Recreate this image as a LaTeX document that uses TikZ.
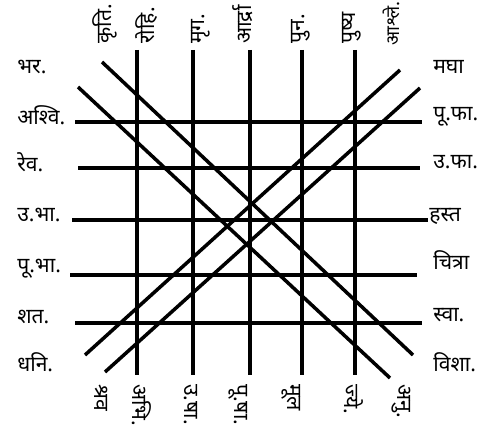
\documentclass[tikz,border=0pt]{standalone}
\usepackage{fontspec}
\newfontfamily\devfont[Script=Devanagari]{Noto Sans}
\tikzset{
  naksh/.style = {
    font=\devfont\fontsize{12}{14}\selectfont,
    inner sep=0pt,
    anchor=mid west
  },
  toplabel/.style = {
    naksh,
    rotate=90
  },
  bottomlabel/.style = {
    naksh,
    rotate=-90
  },
  shalaka/.style = {
    line width=2pt
  }
}

\begin{document}
\begin{tikzpicture}[x=0.02cm, y=-0.02cm]
    \useasboundingbox (0,0) rectangle (479,429);
    % left side
    \node[naksh] (bhar) at (17,70) {भर.};
    \node[naksh] (ashvi) at (17,121) {अश्वि.};
    \node[naksh] (rev) at (17,168) {रेव.};
    \node[naksh] (ubha) at (17,218) {उ.भा.};
    \node[naksh] (pubha) at (17,269) {पू.भा.};
    \node[naksh] (shat) at (17,320) {शत.};
    \node[naksh] (dhani) at (17,368) {धनि.};
    % right side
    \node[naksh] (magha) at (433,70) {मघा};
    \node[naksh] (pupha) at (433,117) {पू.फा.};
    \node[naksh] (upha) at (433,165) {उ.फा.};
    \node[naksh] (hast) at (429,218) {हस्त};
    \node[naksh] (chitra) at (433,266) {चित्रा};
    \node[naksh] (swati) at (433,318) {स्वा.};
    \node[naksh] (vish) at (433,368) {विशा.};
    % top
    \node[toplabel] (krit) at (108,44) {कृति.};
    \node[toplabel] (rohi) at (151,44) {रोहि.};
    \node[toplabel] (mrig) at (201,44) {मृग.};
    \node[toplabel] (ardra) at (248,44) {आर्द्रा};
    \node[toplabel] (pun) at (301,44) {पुन.};
    \node[toplabel] (push) at (352,44) {पुष्य};
    \node[toplabel, font=\devfont\fontsize{10.5}{12}\selectfont] (ashle) at (396,46) {आश्ले.};
    % bottom
    \node[bottomlabel] (shrav) at (98,384) {श्रव};
    \node[bottomlabel] (abhi) at (136,384) {अभि.};
    \node[bottomlabel] (usha) at (188,384) {उ.षा.};
    \node[bottomlabel] (pusha) at (238,384) {पू.षा.};
    \node[bottomlabel] (mool) at (291,384) {मूल};
    \node[bottomlabel] (jye) at (348,384) {ज्ये.};
    \node[bottomlabel] (anu) at (401,384) {अनु.};
    % line ends
    \coordinate (ashvi-e) at (75,122);  \coordinate (pupha-e) at (422,122);
    \coordinate (rev-e) at (78,168);    \coordinate (upha-e) at (420,168);
    \coordinate (ubha-e) at (72,220);   \coordinate (hast-e) at (428,220);
    \coordinate (pubha-e) at (70,275);  \coordinate (chitra-e) at (417,275);
    \coordinate (shat-e) at (75,323);   \coordinate (swati-e) at (422,323);
    \coordinate (rohi-e) at (137,50);   \coordinate (abhi-e) at (137,375);
    \coordinate (mrig-e) at (193,50);   \coordinate (usha-e) at (193,375);
    \coordinate (ardra-e) at (250,50);  \coordinate (pusha-e) at (250,375);
    \coordinate (pun-e) at (302,50);    \coordinate (mool-e) at (302,375);
    \coordinate (push-e) at (355,50);   \coordinate (jye-e) at (355,375);
    \coordinate (krit-e) at (102,62);   \coordinate (vish-e) at (413,355);
    \coordinate (bhar-e) at (78,87);    \coordinate (anu-e) at (390,378);
    \coordinate (dhani-e) at (85,355);  \coordinate (ashle-e) at (400,70);
    \coordinate (shrav-e) at (105,372); \coordinate (magha-e) at (420,88);
    \draw[shalaka] (ashvi-e) -- (pupha-e);
    \draw[shalaka] (rev-e) -- (upha-e);
    \draw[shalaka] (ubha-e) -- (hast-e);
    \draw[shalaka] (pubha-e) -- (chitra-e);
    \draw[shalaka] (shat-e) -- (swati-e);
    \draw[shalaka] (rohi-e) -- (abhi-e);
    \draw[shalaka] (mrig-e) -- (usha-e);
    \draw[shalaka] (ardra-e) -- (pusha-e);
    \draw[shalaka] (pun-e) -- (mool-e);
    \draw[shalaka] (push-e) -- (jye-e);
    \draw[shalaka] (krit-e) -- (vish-e);
    \draw[shalaka] (bhar-e) -- (anu-e);
    \draw[shalaka] (dhani-e) -- (ashle-e);
    \draw[shalaka] (shrav-e) -- (magha-e);
\end{tikzpicture}
\end{document}
